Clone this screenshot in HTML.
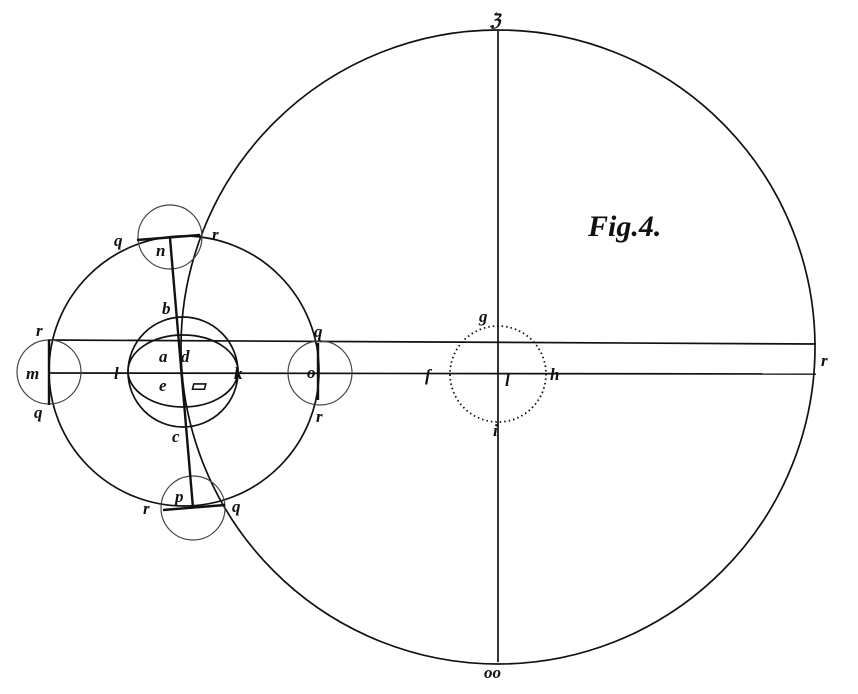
<!DOCTYPE html>
<html><head><meta charset="utf-8"><style>
html,body{margin:0;padding:0;background:#fff;}
svg text{font-family:"Liberation Serif",serif;font-style:italic;font-weight:bold;fill:#111;}
</style></head><body>
<svg width="858" height="689" viewBox="0 0 858 689" xmlns="http://www.w3.org/2000/svg">
<g fill="none" stroke="#111" stroke-width="1.7">
<circle cx="498" cy="347" r="317"/>
<line x1="498" y1="31" x2="498" y2="662"/>
<line x1="48" y1="340" x2="816" y2="344"/>
<line x1="48" y1="373" x2="816" y2="374"/>
<circle cx="498" cy="374" r="48" stroke-dasharray="1.5 3" stroke-width="1.8"/>
<circle cx="184" cy="371" r="135"/>
<circle cx="170" cy="237" r="32" stroke="#444" stroke-width="1.2"/>
<circle cx="193" cy="508" r="32" stroke="#444" stroke-width="1.2"/>
<circle cx="49" cy="372" r="32" stroke="#444" stroke-width="1.2"/>
<circle cx="320" cy="373" r="32" stroke="#444" stroke-width="1.2"/>
<circle cx="183" cy="372" r="55"/>
<ellipse cx="183" cy="371" rx="55" ry="36"/>
<line x1="137" y1="240" x2="200" y2="235" stroke-width="2.4"/>
<line x1="163" y1="510" x2="225" y2="505" stroke-width="2.4"/>
<line x1="170" y1="238" x2="193" y2="508" stroke-width="2.4"/>
<line x1="49" y1="340" x2="49" y2="405" stroke-width="2.4"/>
<line x1="318" y1="343" x2="318" y2="400" stroke-width="2.4"/>
</g>
<text x="588" y="236" font-size="30">Fig.4.</text>
<g font-size="17">
<text x="490" y="26">ℨ</text>
<text x="484" y="678">oo</text>
<text x="114" y="246">q</text>
<text x="156" y="256">n</text>
<text x="212" y="240">r</text>
<text x="162" y="314">b</text>
<text x="36" y="336">r</text>
<text x="26" y="379">m</text>
<text x="34" y="418">q</text>
<text x="114" y="379">l</text>
<text x="159" y="362">a</text>
<text x="181" y="362">d</text>
<text x="159" y="391">e</text>
<text x="190" y="391">▭</text>
<text x="234" y="379">k</text>
<text x="172" y="442">c</text>
<text x="314" y="337">q</text>
<text x="307" y="378">o</text>
<text x="316" y="422">r</text>
<text x="175" y="502">p</text>
<text x="143" y="514">r</text>
<text x="232" y="512">q</text>
<text x="479" y="322">g</text>
<text x="425" y="381">f</text>
<text x="505" y="386">l</text>
<text x="550" y="380">h</text>
<text x="493" y="436">i</text>
<text x="821" y="366">r</text>
</g>
</svg>
</body></html>
